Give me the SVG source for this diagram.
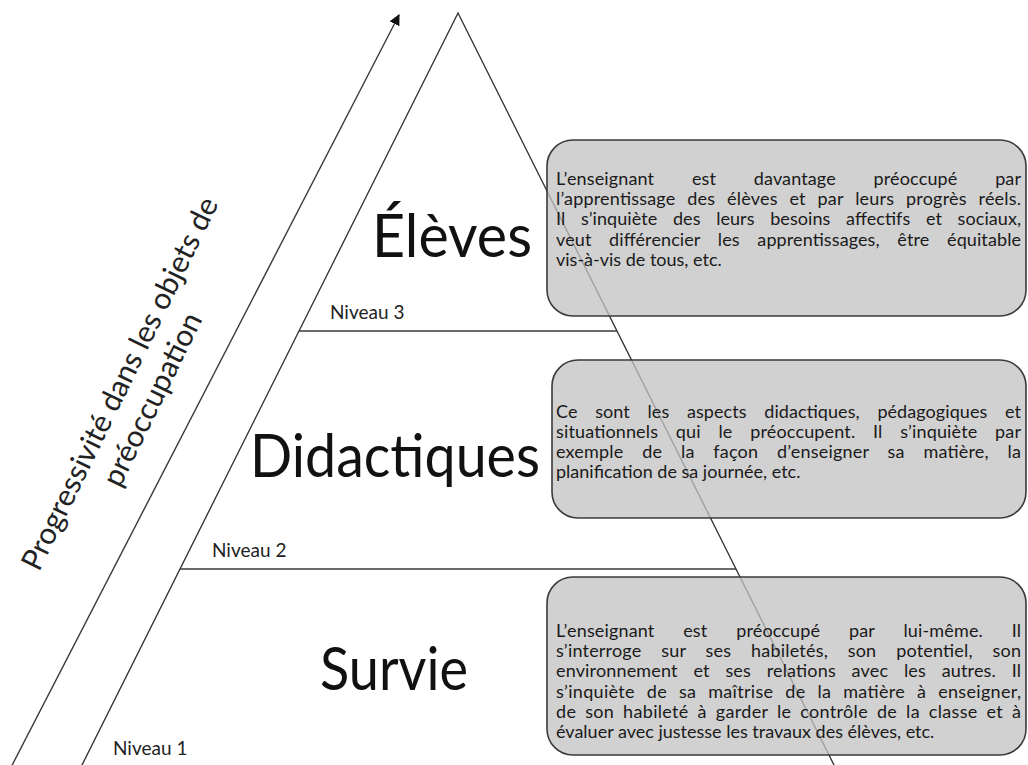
<svg xmlns="http://www.w3.org/2000/svg" width="1028" height="765" viewBox="0 0 1028 765">
<style>
  .ln { stroke: #3a3a3a; stroke-width: 1.4; fill: none; }
  .box { fill: #c2c2c2; fill-opacity: 0.75; stroke: #3a3a3a; stroke-width: 1.6; }
  .bt { font-family: Lato, "Open Sans", sans-serif; font-size: 18px; fill: #1a1a1a; }
  .big { font-family: Lato, "Open Sans", sans-serif; font-size: 60px; fill: #111; }
  .niv { font-family: Lato, "Open Sans", sans-serif; font-size: 19px; fill: #222; }
  .rot { font-family: Lato, "Open Sans", sans-serif; font-size: 30px; fill: #222; text-anchor: middle; }
</style>
<defs>
  <marker id="ah" viewBox="0 0 10 10" refX="9" refY="5" markerWidth="11" markerHeight="11" markerUnits="userSpaceOnUse" orient="auto">
    <path d="M0,0 L10,5 L0,10 z" fill="#111"/>
  </marker>
</defs>
<rect width="1028" height="765" fill="#fff"/>
<text x="56" y="-5" class="niv" font-size="24">g)</text>

<g id="connectors">
  <line class="ln" x1="6" y1="777" x2="399" y2="15" marker-end="url(#ah)"/>
</g>

<g id="pyramid">
  <polyline class="ln" points="70,789 458,13 846,789"/>
  <line class="ln" x1="299" y1="331" x2="617" y2="331"/>
  <line class="ln" x1="180" y1="569" x2="736" y2="569"/>
</g>

<g id="axis-label">
  <g transform="translate(129,388) rotate(-64)">
    <text class="rot" x="0" y="0">Progressivité dans les objets de</text>
    <text class="rot" x="0" y="36">préoccupation</text>
  </g>
</g>

<g id="level-labels">
  <text class="niv" x="330" y="319">Niveau 3</text>
  <text class="niv" x="212" y="557">Niveau 2</text>
  <text class="niv" x="113" y="755">Niveau 1</text>
</g>

<g id="eleves">
  <text class="big" x="372" y="257" textLength="160" lengthAdjust="spacingAndGlyphs">Élèves</text>
</g>
<g id="didactiques">
  <text class="big" x="250" y="477" textLength="290" lengthAdjust="spacingAndGlyphs">Didactiques</text>
</g>
<g id="survie">
  <text class="big" x="320" y="690" textLength="148" lengthAdjust="spacingAndGlyphs">Survie</text>
</g>

<g id="box-eleves">
  <rect class="box" x="547" y="140" width="479" height="176" rx="26"/>
  <text class="bt" x="556" y="185" word-spacing="33" textLength="465" lengthAdjust="spacing">L’enseignant est davantage préoccupé par</text>
  <text class="bt" x="556" y="205" word-spacing="7" textLength="465" lengthAdjust="spacing">l’apprentissage des élèves et par leurs progrès réels.</text>
  <text class="bt" x="556" y="225" word-spacing="11" textLength="465" lengthAdjust="spacing">Il s’inquiète des leurs besoins affectifs et sociaux,</text>
  <text class="bt" x="556" y="246" word-spacing="13" textLength="465" lengthAdjust="spacing">veut différencier les apprentissages, être équitable</text>
  <text class="bt" x="556" y="266">vis-à-vis de tous, etc.</text>
</g>

<g id="box-didactiques">
  <rect class="box" x="552" y="360" width="474" height="158" rx="26"/>
  <text class="bt" x="556" y="418" word-spacing="13" textLength="465" lengthAdjust="spacing">Ce sont les aspects didactiques, pédagogiques et</text>
  <text class="bt" x="556" y="438" word-spacing="13" textLength="465" lengthAdjust="spacing">situationnels qui le préoccupent. Il s’inquiète par</text>
  <text class="bt" x="556" y="458" word-spacing="14" textLength="465" lengthAdjust="spacing">exemple de la façon d’enseigner sa matière, la</text>
  <text class="bt" x="556" y="478">planification de sa journée, etc.</text>
</g>

<g id="box-survie">
  <rect class="box" x="547" y="577" width="479" height="178" rx="26"/>
  <text class="bt" x="556" y="637" word-spacing="24" textLength="465" lengthAdjust="spacing">L’enseignant est préoccupé par lui-même. Il</text>
  <text class="bt" x="556" y="657" word-spacing="15" textLength="465" lengthAdjust="spacing">s’interroge sur ses habiletés, son potentiel, son</text>
  <text class="bt" x="556" y="677" word-spacing="11" textLength="465" lengthAdjust="spacing">environnement et ses relations avec les autres. Il</text>
  <text class="bt" x="556" y="698" word-spacing="7" textLength="465" lengthAdjust="spacing">s’inquiète de sa maîtrise de la matière à enseigner,</text>
  <text class="bt" x="556" y="718" word-spacing="4" textLength="465" lengthAdjust="spacing">de son habileté à garder le contrôle de la classe et à</text>
  <text class="bt" x="556" y="738">évaluer avec justesse les travaux des élèves, etc.</text>
</g>
</svg>
